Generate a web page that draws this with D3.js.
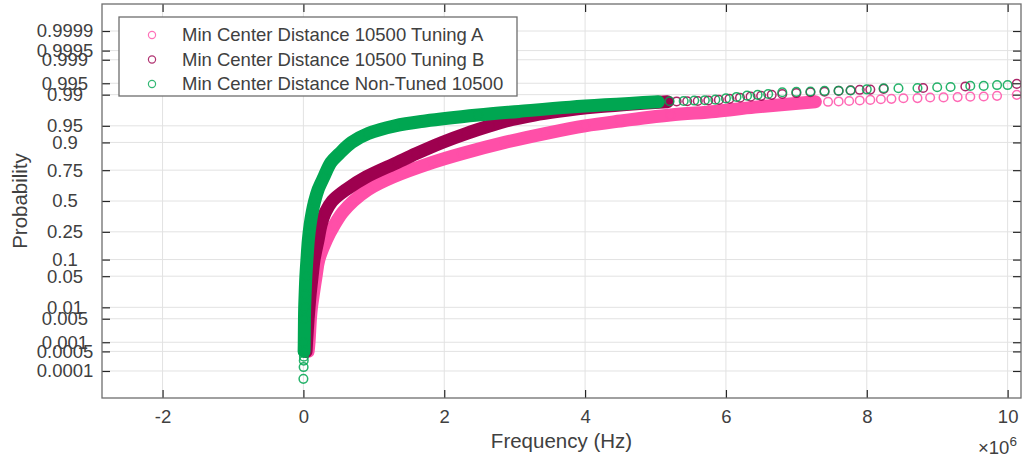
<!DOCTYPE html>
<html>
<head>
<meta charset="utf-8">
<script src="https://cdn.jsdelivr.net/npm/d3@7"></script>
<style>
    body { margin: 0; background: #fff; }
    svg { display: block; font-family: "Liberation Sans", Arial, Helvetica, sans-serif; }
</style>
</head>
<body>
<div id="chart"></div>
<script>
// ---- data (frequency in MHz, probability) ----
const seriesNames = [
    "Min Center Distance 10500 Tuning A",
    "Min Center Distance 10500 Tuning B",
    "Min Center Distance Non-Tuned 10500"
];
const seriesColors = ["#ff4fa8", "#9e004f", "#00a651"];

// dense part of each curve, on a shared probability grid
const bandProb = [0.0005, 0.001, 0.005, 0.01, 0.02, 0.05, 0.1, 0.2, 0.3, 0.4, 0.5, 0.6,
    0.7, 0.8, 0.85, 0.9, 0.93, 0.95, 0.96, 0.97, 0.975, 0.98, 0.985];
const bandFreqA = [0.067, 0.08, 0.10, 0.115, 0.14, 0.18, 0.22, 0.33, 0.44, 0.555, 0.71, 0.92,
    1.27, 1.83, 2.25, 2.86, 3.43, 4.0, 4.5, 5.21, 5.85, 6.41, 7.27];
const bandFreqB = [0.038, 0.045, 0.067, 0.08, 0.095, 0.124, 0.152, 0.21, 0.25, 0.31, 0.41, 0.61,
    0.89, 1.33, 1.60, 1.97, 2.31, 2.65, 2.88, 3.28, 3.62, 4.14, 5.17];
const bandFreqC = [0.01, 0.012, 0.015, 0.018, 0.024, 0.035, 0.05, 0.071, 0.095, 0.124, 0.16, 0.21,
    0.29, 0.39, 0.51, 0.685, 0.92, 1.30, 1.73, 2.48, 3.06, 3.79, 5.04];

// lowest single points of the non-tuned curve
const lowFreqC = [0.0, 0.003, 0.005, 0.007];
const lowProbC = [0.00005, 0.00014, 0.00024, 0.00033];

// sparse upper tails (single circles)
const tailFreqA = [7.45, 7.6, 7.75, 7.9, 8.05, 8.2, 8.35, 8.52, 8.72, 8.9, 9.09, 9.29, 9.47, 9.66, 9.85, 10.13];
const tailProbA = [0.9850, 0.9853, 0.9857, 0.9861, 0.9865, 0.9870, 0.9873, 0.9877, 0.9878, 0.9882,
    0.9883, 0.9885, 0.9888, 0.9889, 0.9893, 0.9899];
const tailFreqB = [5.3, 5.45, 5.6, 5.75, 5.9, 6.05, 6.2, 6.35, 6.5, 6.65, 6.8, 7.0, 7.2, 7.4, 7.6,
    7.77, 7.9, 8.05, 8.24, 8.8, 9.4, 10.13];
const tailProbB = [0.9853, 0.9855, 0.9857, 0.9861, 0.9865, 0.9873, 0.9881, 0.9888, 0.9893, 0.9899,
    0.9904, 0.9909, 0.9913, 0.9916, 0.9920, 0.9923, 0.9925, 0.9926, 0.9929, 0.9933, 0.9939, 0.9948];
const tailFreqC = [5.2, 5.4, 5.55, 5.7, 5.85, 6.0, 6.15, 6.3, 6.45, 6.6, 6.8, 7.0, 7.2, 7.4, 7.6,
    7.77, 8.0, 8.24, 8.45, 8.72, 9.0, 9.19, 9.47, 9.66, 9.85, 10.0];
const tailProbC = [0.9855, 0.9857, 0.9860, 0.9863, 0.9867, 0.9876, 0.9886, 0.9894, 0.9899, 0.9904,
    0.9913, 0.9915, 0.9917, 0.9920, 0.9921, 0.9922, 0.9927, 0.9932, 0.9932, 0.9933, 0.9936, 0.9937,
    0.9941, 0.9941, 0.9944, 0.9944];

const xTicks = [-2, 0, 2, 4, 6, 8, 10];
const yTicks = [0.0001, 0.0005, 0.001, 0.005, 0.01, 0.05, 0.1, 0.25, 0.5, 0.75, 0.9, 0.95,
    0.99, 0.995, 0.999, 0.9995, 0.9999];
const yTickLabels = ["0.0001", "0.0005", "0.001", "0.005", "0.01", "0.05", "0.1", "0.25", "0.5",
    "0.75", "0.9", "0.95", "0.99", "0.995", "0.999", "0.9995", "0.9999"];

// inverse normal cdf (Acklam) for the probability axis
function probit(p) {
    const a = [-3.969683028665376e+01, 2.209460984245205e+02, -2.759285104469687e+02,
        1.383577518672690e+02, -3.066479806614716e+01, 2.506628277459239e+00];
    const b = [-5.447609879822406e+01, 1.615858368580409e+02, -1.556989798598866e+02,
        6.680131188771972e+01, -1.328068155288572e+01];
    const c = [-7.784894002430293e-03, -3.223964580411365e-01, -2.400758277161838e+00,
        -2.549732539343734e+00, 4.374664141464968e+00, 2.938163982698783e+00];
    const d = [7.784695709041462e-03, 3.224671290700398e-01, 2.445134137142996e+00,
        3.754408661907416e+00];
    const pl = 0.02425;
    if (p < pl) {
        const q = Math.sqrt(-2 * Math.log(p));
        return (((((c[0] * q + c[1]) * q + c[2]) * q + c[3]) * q + c[4]) * q + c[5]) /
            ((((d[0] * q + d[1]) * q + d[2]) * q + d[3]) * q + 1);
    }
    if (p > 1 - pl) {
        const q = Math.sqrt(-2 * Math.log(1 - p));
        return -(((((c[0] * q + c[1]) * q + c[2]) * q + c[3]) * q + c[4]) * q + c[5]) /
            ((((d[0] * q + d[1]) * q + d[2]) * q + d[3]) * q + 1);
    }
    const q = p - 0.5, r = q * q;
    return (((((a[0] * r + a[1]) * r + a[2]) * r + a[3]) * r + a[4]) * r + a[5]) * q /
        (((((b[0] * r + b[1]) * r + b[2]) * r + b[3]) * r + b[4]) * r + 1);
}

const width = 1031, height = 463;
const margin = { top: 4, right: 10, bottom: 65, left: 102 };
const w = width - margin.left - margin.right;
const h = height - margin.top - margin.bottom;

const svg = d3.select("#chart").append("svg")
    .attr("width", width)
    .attr("height", height);

const g = svg.append("g").attr("transform", `translate(${margin.left},${margin.top})`);

const x = d3.scaleLinear().domain([-2.86e6, 10.19e6]).range([0, w]);
const y = d3.scaleLinear().domain([-4.31, 4.31]).range([h, 0]);
const yp = p => y(probit(p));

// grid
g.append("g").selectAll("line.gy")
    .data(yTicks).enter().append("line")
    .attr("x1", 0).attr("x2", w)
    .attr("y1", d => yp(d)).attr("y2", d => yp(d))
    .attr("stroke", "#e2e2e2").attr("stroke-width", 1);
g.append("g").selectAll("line.gx")
    .data(xTicks).enter().append("line")
    .attr("x1", d => x(d * 1e6)).attr("x2", d => x(d * 1e6))
    .attr("y1", 0).attr("y2", h)
    .attr("stroke", "#e2e2e2").attr("stroke-width", 1);

// data
g.append("clipPath").attr("id", "plotclip")
    .append("rect").attr("width", w).attr("height", h);
const plot = g.append("g").attr("clip-path", "url(#plotclip)");

const bands = [bandFreqA, bandFreqB, bandFreqC];
const tails = [[tailFreqA, tailProbA], [tailFreqB, tailProbB], [tailFreqC, tailProbC]];

const line = d3.line()
    .x(d => x(d[0] * 1e6))
    .y(d => yp(d[1]))
    .curve(d3.curveCatmullRom.alpha(0.5));

bands.forEach((freqs, k) => {
    const pts = freqs.map((f, i) => [f, bandProb[i]]);
    plot.append("path")
        .datum(pts)
        .attr("d", line)
        .attr("fill", "none")
        .attr("stroke", seriesColors[k])
        .attr("stroke-width", 13)
        .attr("stroke-linecap", "round")
        .attr("stroke-linejoin", "round");

    let singles = tails[k][0].map((f, i) => [f, tails[k][1][i]]);
    if (k === 2) singles = singles.concat(lowFreqC.map((f, i) => [f, lowProbC[i]]));

    plot.append("g").selectAll("circle")
        .data(pts.concat(singles)).enter().append("circle")
        .attr("cx", d => x(d[0] * 1e6))
        .attr("cy", d => yp(d[1]))
        .attr("r", 4.3)
        .attr("fill", "none")
        .attr("stroke", seriesColors[k])
        .attr("stroke-width", 1.5)
        .attr("stroke-opacity", 0.85);
});

// axes
const tickColor = "#262626";
const textColor = "#404040";

g.append("g")
    .attr("transform", `translate(0,${h})`)
    .call(d3.axisBottom(x).tickValues(xTicks.map(d => d * 1e6))
        .tickFormat(d => d / 1e6).tickSizeInner(-8).tickSizeOuter(0).tickPadding(12));
g.append("g")
    .call(d3.axisTop(x).tickValues(xTicks.map(d => d * 1e6))
        .tickFormat("").tickSizeInner(-8).tickSizeOuter(0));
const yAxis = g.append("g")
    .call(d3.axisLeft(y).tickValues(yTicks.map(probit))
        .tickFormat((d, i) => yTickLabels[i]).tickSizeInner(-8).tickSizeOuter(0));
g.append("g")
    .attr("transform", `translate(${w},0)`)
    .call(d3.axisRight(y).tickValues(yTicks.map(probit))
        .tickFormat("").tickSizeInner(-8).tickSizeOuter(0));

g.selectAll(".domain").remove();
g.selectAll(".tick line").attr("stroke", tickColor).attr("stroke-width", 1.2);
g.selectAll(".tick text")
    .attr("fill", textColor)
    .style("font-size", "18.5px")
    .style("font-family", "'Liberation Sans', Arial, sans-serif");
yAxis.selectAll(".tick text")
    .attr("x", 65 - margin.left)
    .attr("text-anchor", "middle");

g.append("rect")
    .attr("width", w).attr("height", h)
    .attr("fill", "none")
    .attr("stroke", "#6e6e6e")
    .attr("stroke-width", 1.3);

// axis labels
svg.append("text")
    .attr("x", margin.left + w / 2).attr("y", 448)
    .attr("text-anchor", "middle")
    .attr("fill", textColor)
    .style("font-size", "20.5px")
    .text("Frequency (Hz)");

svg.append("text")
    .attr("transform", `translate(27,${margin.top + h / 2}) rotate(-90)`)
    .attr("text-anchor", "middle")
    .attr("fill", textColor)
    .style("font-size", "20.5px")
    .text("Probability");

const exp = svg.append("text")
    .attr("x", 978).attr("y", 454)
    .attr("fill", textColor)
    .style("font-size", "18.5px")
    .text("\u00d710");
exp.append("tspan")
    .attr("dy", -8)
    .style("font-size", "13.5px")
    .text("6");

// legend
const legend = svg.append("g");
legend.append("rect")
    .attr("x", 119).attr("y", 17)
    .attr("width", 398).attr("height", 79)
    .attr("fill", "#fff")
    .attr("stroke", "#6e6e6e")
    .attr("stroke-width", 1.3);

const rows = legend.selectAll("g.row")
    .data(seriesNames).enter().append("g")
    .attr("transform", (d, i) => `translate(0,${35 + i * 24.5})`);
rows.append("circle")
    .attr("cx", 152).attr("cy", 0).attr("r", 3.6)
    .attr("fill", "none")
    .attr("stroke", (d, i) => seriesColors[i])
    .attr("stroke-width", 1.2)
    .attr("stroke-opacity", 0.8);
rows.append("text")
    .attr("x", 182).attr("y", 0)
    .attr("dy", "0.35em")
    .attr("fill", textColor)
    .style("font-size", "18.5px")
    .text(d => d);
</script>
</body>
</html>
